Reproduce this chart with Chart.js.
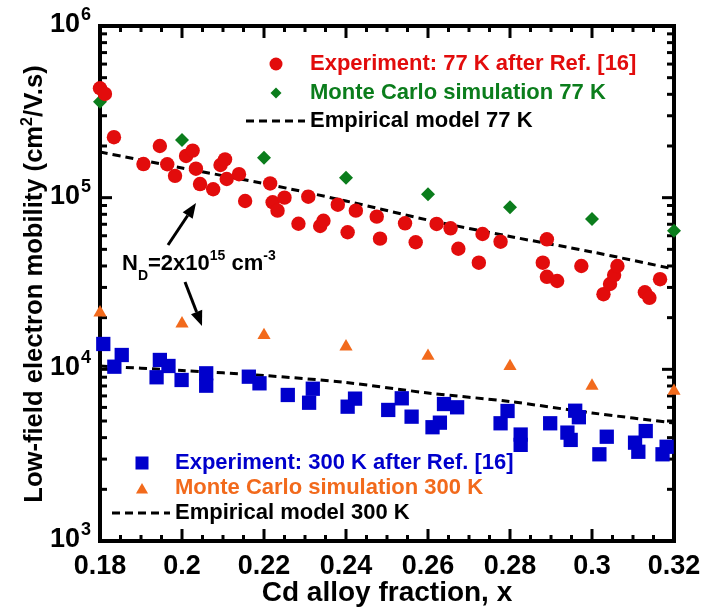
<!DOCTYPE html>
<html>
<head>
<meta charset="utf-8">
<script src="https://cdn.jsdelivr.net/npm/chart.js@4.4.0/dist/chart.umd.min.js"></script>
<style>
html, body { margin: 0; padding: 0; background: #fff; }
</style>
</head>
<body>
<canvas id="chart" width="704" height="610"></canvas>
<script>
// Experiment 77 K (after Ref. [16])
const exp77X = [0.1800, 0.1812, 0.1834, 0.1946, 0.1906, 0.1964, 0.1983, 0.2010, 0.2026, 0.2034,
    0.2044, 0.2076, 0.2094, 0.2105, 0.2109, 0.2139, 0.2154, 0.2215, 0.2221, 0.2233,
    0.2250, 0.2284, 0.2308, 0.2337, 0.2345, 0.2380, 0.2404, 0.2424, 0.2475, 0.2483,
    0.2544, 0.2570, 0.2621, 0.2655, 0.2674, 0.2724, 0.2733, 0.2777, 0.2890, 0.2880,
    0.2890, 0.2915, 0.2974, 0.3028, 0.3044, 0.3054, 0.3062, 0.3129, 0.3140, 0.3166];
const exp77Y = [434000, 402000, 225000, 200000, 157000, 156500, 134000, 175000, 188000, 147500,
    120000, 112000, 155000, 167000, 128500, 137000, 95600, 121000, 94000, 84000,
    100000, 70500, 101300, 68400, 73400, 91000, 62900, 84000, 77500, 57700,
    70900, 55000, 70300, 66300, 50400, 41800, 61400, 55400, 57200, 41800,
    34600, 32700, 40000, 27400, 31400, 35400, 40000, 28100, 26100, 33500];

// Experiment 300 K (after Ref. [16])
const exp300X = [0.1808, 0.1853, 0.1835, 0.1946, 0.1967, 0.1938, 0.1999, 0.2059, 0.2059, 0.2163,
    0.2189, 0.2258, 0.2319, 0.2310, 0.2422, 0.2404, 0.2503, 0.2536, 0.2560, 0.2611,
    0.2629, 0.2639, 0.2671, 0.2777, 0.2794, 0.2826, 0.2826, 0.2898, 0.2940, 0.2948,
    0.2959, 0.2968, 0.3036, 0.3018, 0.3105, 0.3131, 0.3113, 0.3182, 0.3172];
const exp300Y = [14050, 12120, 10360, 11340, 10460, 8990, 8670, 9480, 8030, 9060,
    8290, 7090, 7710, 6390, 6750, 6060, 5800, 6780, 5300, 4600,
    4890, 6280, 6010, 4850, 5720, 4170, 3630, 4850, 4280, 3880,
    5740, 5260, 4050, 3200, 3740, 4370, 3310, 3540, 3200];

// Monte Carlo simulation + empirical model, read at the major x ticks
const simX = [0.18, 0.20, 0.22, 0.24, 0.26, 0.28, 0.30, 0.32];
const mc77Y = [362000, 216700, 170900, 130700, 104600, 87900, 75100, 64200];
const mc300Y = [21370, 18440, 15790, 13550, 11960, 10420, 8000, 7480];
const emp77Y = [184500, 148900, 120900, 95600, 74100, 59400, 48300, 38400];
const emp300Y = [10460, 9840, 9210, 8380, 7280, 6490, 5570, 4870];

const xTickValues = [0.18, 0.20, 0.22, 0.24, 0.26, 0.28, 0.30, 0.32];
const xTickLabels = ["0.18", "0.2", "0.22", "0.24", "0.26", "0.28", "0.3", "0.32"];
const yTickValues = [1e6, 1e5, 1e4, 1e3];
const yTickExps = ["6", "5", "4", "3"];

const RED = "#e20c0c", GREEN = "#0b7d1c", BLUE = "#0000cc", ORANGE = "#f26a1c";
const FAMILY = '"Liberation Sans", Arial, sans-serif';
const font = (px) => `bold ${px}px ${FAMILY}`;

const pts = (xs, ys) => xs.map((x, i) => ({ x, y: ys[i] }));

// draw a run of [text, size, dy] pieces, returns end x
function rich(ctx, parts, x, y) {
    let cx = x;
    for (const [t, size, dy] of parts) {
        ctx.font = font(size);
        ctx.fillText(t, cx, y + dy);
        cx += ctx.measureText(t).width;
    }
    return cx;
}
function richWidth(ctx, parts) {
    let w = 0;
    for (const [t, size] of parts) { ctx.font = font(size); w += ctx.measureText(t).width; }
    return w;
}

function marker(ctx, style, x, y, r, color) {
    ctx.fillStyle = color;
    ctx.beginPath();
    if (style === "circle") ctx.arc(x, y, r, 0, Math.PI * 2);
    else if (style === "rect") { const s = r * Math.SQRT1_2; ctx.rect(x - s, y - s, 2 * s, 2 * s); }
    else if (style === "rectRot") { ctx.moveTo(x, y - r); ctx.lineTo(x + r, y); ctx.lineTo(x, y + r); ctx.lineTo(x - r, y); ctx.closePath(); }
    else if (style === "triangle") {
        let a = 0;
        ctx.moveTo(x + Math.sin(a) * r, y - Math.cos(a) * r);
        a += 2 * Math.PI / 3; ctx.lineTo(x + Math.sin(a) * r, y - Math.cos(a) * r);
        a += 2 * Math.PI / 3; ctx.lineTo(x + Math.sin(a) * r, y - Math.cos(a) * r);
        ctx.closePath();
    }
    ctx.fill();
}

function dashed(ctx, x1, x2, y) {
    ctx.save();
    ctx.strokeStyle = "#000"; ctx.lineWidth = 3; ctx.setLineDash([8, 5]);
    ctx.beginPath(); ctx.moveTo(x1, y); ctx.lineTo(x2, y); ctx.stroke();
    ctx.restore();
}

function arrow(ctx, x1, y1, x2, y2) {
    const ang = Math.atan2(y2 - y1, x2 - x1), len = 15, hw = 6;
    const bx = x2 - Math.cos(ang) * len, by = y2 - Math.sin(ang) * len;
    ctx.strokeStyle = "#000"; ctx.fillStyle = "#000"; ctx.lineWidth = 3;
    ctx.beginPath(); ctx.moveTo(x1, y1); ctx.lineTo(bx, by); ctx.stroke();
    ctx.beginPath();
    ctx.moveTo(x2, y2);
    ctx.lineTo(bx + Math.sin(ang) * hw, by - Math.cos(ang) * hw);
    ctx.lineTo(bx - Math.sin(ang) * hw, by + Math.cos(ang) * hw);
    ctx.closePath(); ctx.fill();
}

// frame + inward ticks on all four sides, under the markers
const framePlugin = {
    id: "frame",
    beforeDatasetsDraw(chart) {
        const { ctx, chartArea: a, scales: { x, y } } = chart;
        ctx.save();
        ctx.strokeStyle = "#000";
        ctx.lineWidth = 3;
        const seg = (x1, y1, x2, y2) => { ctx.beginPath(); ctx.moveTo(x1, y1); ctx.lineTo(x2, y2); ctx.stroke(); };
        for (let i = 0; i <= 28; i++) {
            const px = x.getPixelForValue(0.18 + i * 0.005);
            const len = i % 4 === 0 ? 12 : 6;
            seg(px, a.bottom, px, a.bottom - len);
            seg(px, a.top, px, a.top + len);
        }
        for (let d = 3; d <= 5; d++) {
            for (let m = 1; m <= 9; m++) {
                const py = y.getPixelForValue(m * Math.pow(10, d));
                const len = m === 1 ? 12 : 7;
                seg(a.left, py, a.left + len, py);
                seg(a.right, py, a.right - len, py);
            }
        }
        ctx.lineWidth = 4;
        ctx.strokeRect(a.left, a.top, a.right - a.left, a.bottom - a.top);
        ctx.restore();
    },
    afterDraw(chart) {
        const { ctx, chartArea: a, scales: { x, y } } = chart;
        ctx.save();
        ctx.fillStyle = "#000";
        ctx.textBaseline = "alphabetic";

        // x tick labels
        ctx.font = font(27);
        ctx.textAlign = "center";
        xTickValues.forEach((v, i) => ctx.fillText(xTickLabels[i], x.getPixelForValue(v), 574));

        // y tick labels 10^n
        ctx.textAlign = "left";
        yTickValues.forEach((v, i) => {
            const py = y.getPixelForValue(v);
            ctx.font = font(27);
            const w = ctx.measureText("10").width;
            ctx.fillText("10", 80 - w, py + 6);
            ctx.font = font(18);
            ctx.fillText(yTickExps[i], 81, py - 6);
        });

        // axis titles
        ctx.font = font(28);
        ctx.textAlign = "center";
        ctx.fillText("Cd alloy fraction, x", (a.left + a.right) / 2, 601);

        ctx.save();
        ctx.translate(42, 284);
        ctx.rotate(-Math.PI / 2);
        ctx.textAlign = "left";
        const yt = [["Low-field electron mobility (cm", 25.6, 0], ["2", 16, -10], ["/V.s)", 25.6, 0]];
        rich(ctx, yt, -richWidth(ctx, yt) / 2, 0);
        ctx.restore();

        // legends
        ctx.textAlign = "left";
        ctx.textBaseline = "middle";
        ctx.font = font(22);
        marker(ctx, "circle", 276, 64, 6.5, RED);
        ctx.fillStyle = RED; ctx.fillText("Experiment: 77 K after Ref. [16]", 310, 64);
        marker(ctx, "rectRot", 276, 93, 5.5, GREEN);
        ctx.fillStyle = GREEN; ctx.fillText("Monte Carlo simulation 77 K", 310, 93);
        dashed(ctx, 246, 305, 121);
        ctx.fillStyle = "#000"; ctx.fillText("Empirical model 77 K", 310, 121);

        marker(ctx, "rect", 142, 463, 9.2, BLUE);
        ctx.fillStyle = BLUE; ctx.fillText("Experiment: 300 K after Ref. [16]", 175, 463);
        marker(ctx, "triangle", 142, 490, 7, ORANGE);
        ctx.fillStyle = ORANGE; ctx.fillText("Monte Carlo simulation 300 K", 175, 488);
        dashed(ctx, 112, 170, 513);
        ctx.fillStyle = "#000"; ctx.fillText("Empirical model 300 K", 175, 513);

        // doping annotation
        ctx.textBaseline = "alphabetic";
        ctx.fillStyle = "#000";
        rich(ctx, [["N", 22, 0], ["D", 14, 10], ["=2x10", 22, 0], ["15", 14, -10], [" cm", 22, 0], ["-3", 14, -10]], 122, 270);
        arrow(ctx, 168, 245, 196, 203);
        arrow(ctx, 185, 282, 202, 326);
        ctx.restore();
    }
};

new Chart(document.getElementById("chart"), {
    type: "scatter",
    data: {
        datasets: [
            { label: "Experiment: 77 K after Ref. [16]", data: pts(exp77X, exp77Y), pointStyle: "circle", pointRadius: 7.2, backgroundColor: RED, borderWidth: 0, clip: false, order: 1 },
            { label: "Monte Carlo simulation 77 K", data: pts(simX, mc77Y), pointStyle: "rectRot", pointRadius: 7, backgroundColor: GREEN, borderWidth: 0, clip: false, order: 1 },
            { label: "Experiment: 300 K after Ref. [16]", data: pts(exp300X, exp300Y), pointStyle: "rect", pointRadius: 10.1, backgroundColor: BLUE, borderWidth: 0, clip: false, order: 1 },
            { label: "Monte Carlo simulation 300 K", data: pts(simX, mc300Y), pointStyle: "triangle", pointRadius: 7.6, backgroundColor: ORANGE, borderWidth: 0, clip: false, order: 1 },
            { label: "Empirical model 77 K", data: pts(simX, emp77Y), showLine: true, pointRadius: 0, borderColor: "#000", borderWidth: 3, borderDash: [8, 5], tension: 0.3, order: 5 },
            { label: "Empirical model 300 K", data: pts(simX, emp300Y), showLine: true, pointRadius: 0, borderColor: "#000", borderWidth: 3, borderDash: [8, 5], tension: 0.3, order: 5 },
        ],
    },
    options: {
        responsive: false,
        animation: false,
        layout: { padding: { left: 100, right: 30, top: 26, bottom: 69 } },
        plugins: { legend: { display: false }, tooltip: { enabled: false } },
        scales: {
            x: { type: "linear", min: 0.18, max: 0.32, display: false },
            y: { type: "logarithmic", min: 1000, max: 1000000, display: false },
        },
    },
    plugins: [framePlugin],
});
</script>
</body>
</html>
